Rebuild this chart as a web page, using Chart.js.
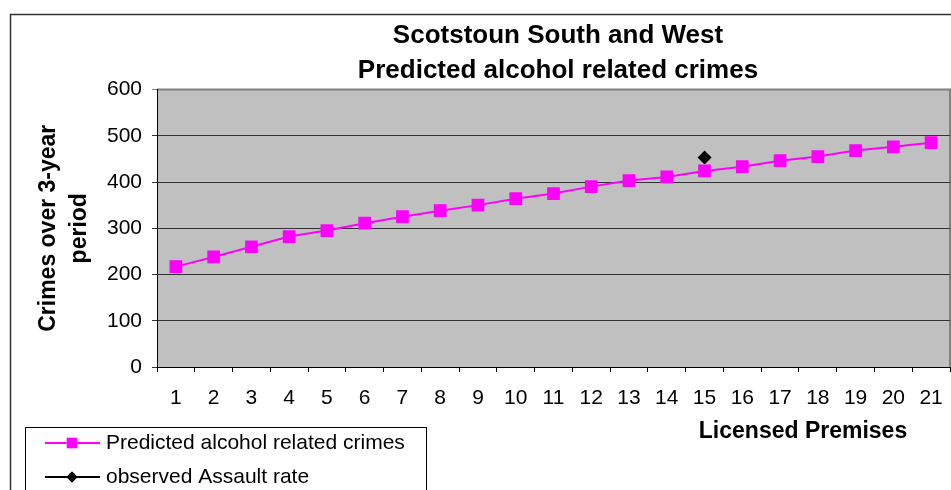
<!DOCTYPE html>
<html>
<head>
<meta charset="utf-8">
<script src="https://cdn.jsdelivr.net/npm/chart.js@4"></script>
<style>
  html, body { margin: 0; padding: 0; background: #fff; }
  #wrap { width: 951px; height: 490px; }
</style>
</head>
<body>
<div id="wrap"><canvas id="crimesChart" width="951" height="490"></canvas></div>
<script>
const premises = ['1','2','3','4','5','6','7','8','9','10','11','12','13','14','15','16','17','18','19','20','21'];
const predictedCrimes = [217, 238, 260, 282, 295, 311, 325, 338, 350, 364, 375, 390, 403, 411, 424, 433, 446, 455, 468, 476, 485];
const observedAssaults = [null, null, null, null, null, null, null, null, null, null, null, null, null, null, 453, null, null, null, null, null, null];
const yTicks = [0, 100, 200, 300, 400, 500, 600];
const chartTitle = ['Scotstoun South and West', 'Predicted alcohol related crimes'];

const FONT = "'Liberation Sans', Arial, sans-serif";

// gray plot area with its own border, outer chart frame, titles and legend box
const frame = {
    id: 'frame',
    beforeDraw(chart) {
        const {ctx, chartArea: a} = chart;
        ctx.save();
        ctx.strokeStyle = '#333';
        ctx.lineWidth = 1.5;
        ctx.strokeRect(10.5, 14.5, 1200, 800);
        ctx.fillStyle = '#c0c0c0';
        ctx.fillRect(a.left, a.top, a.right - a.left, a.bottom - a.top);
        ctx.strokeStyle = '#808080';
        ctx.lineWidth = 2;
        ctx.beginPath();
        ctx.moveTo(a.left, a.top);
        ctx.lineTo(a.right, a.top);
        ctx.lineTo(a.right, a.bottom);
        ctx.stroke();
        ctx.restore();
    },
    afterDraw(chart) {
        const ctx = chart.ctx;
        ctx.save();
        ctx.fillStyle = '#000';
        ctx.textAlign = 'center';
        ctx.textBaseline = 'middle';
        ctx.font = 'bold 26px ' + FONT;
        chartTitle.forEach((line, i) => ctx.fillText(line, 558, 36 + i * 35));
        // x axis title
        ctx.font = 'bold 23px ' + FONT;
        ctx.fillText('Licensed Premises', 803, 432);
        // legend box
        ctx.strokeStyle = '#000';
        ctx.lineWidth = 1;
        ctx.fillStyle = '#fff';
        ctx.fillRect(25.5, 427.5, 401, 100);
        ctx.strokeRect(25.5, 427.5, 401, 100);
        chart.data.datasets.forEach((ds, i) => {
            const y = 443 + i * 34;
            ctx.strokeStyle = ds.borderColor;
            ctx.lineWidth = 2;
            ctx.beginPath();
            ctx.moveTo(45, y);
            ctx.lineTo(100, y);
            ctx.stroke();
            Chart.helpers.drawPoint(ctx, {
                pointStyle: ds.pointStyle,
                radius: ds.legendRadius,
                borderWidth: 0
            }, 72, y);
            ctx.fillStyle = ds.pointBackgroundColor;
            ctx.fill();
            ctx.fillStyle = '#000';
            ctx.font = '21px ' + FONT;
            ctx.textAlign = 'left';
            ctx.fillText(ds.label, 106, y);
        });
        ctx.restore();
    }
};

new Chart(document.getElementById('crimesChart').getContext('2d'), {
    type: 'line',
    data: {
        labels: premises,
        datasets: [{
            label: 'Predicted alcohol related crimes',
            data: predictedCrimes,
            borderColor: '#ff00ff',
            backgroundColor: '#ff00ff',
            pointBackgroundColor: '#ff00ff',
            pointBorderColor: '#ff00ff',
            borderWidth: 2,
            pointStyle: 'rect',
            pointRadius: 9,
            pointBorderWidth: 0,
            legendRadius: 7.5,
            tension: 0
        }, {
            label: 'observed Assault rate',
            data: observedAssaults,
            borderColor: '#000',
            backgroundColor: '#000',
            pointBackgroundColor: '#000',
            pointBorderColor: '#000',
            borderWidth: 2,
            pointStyle: 'rectRot',
            pointRadius: 7,
            pointBorderWidth: 0,
            legendRadius: 5.5
        }]
    },
    options: {
        responsive: false,
        animation: false,
        layout: { autoPadding: false, padding: { left: 0, right: 1, top: 89.5, bottom: 0 } },
        plugins: {
            legend: { display: false },
            tooltip: { enabled: false },
            title: { display: false }
        },
        scales: {
            x: {
                offset: true,
                afterFit: scale => { scale.height = 123; },
                grid: { offset: true, drawOnChartArea: false, tickLength: 5, color: '#000' },
                border: { color: '#000', width: 1 },
                ticks: { color: '#000', font: { family: FONT, size: 21, lineHeight: 1.9 }, padding: 6, maxRotation: 0, autoSkip: false }
            },
            y: {
                min: 0,
                max: 600,
                afterFit: scale => { scale.width = 157; },
                afterBuildTicks: scale => { scale.ticks = yTicks.map(v => ({ value: v })); },
                grid: {
                    tickLength: 5,
                    color: ctx => ctx.tick && ctx.tick.value === 600 ? '#808080' : '#333'
                },
                border: { color: '#000', width: 1 },
                ticks: { color: '#000', font: { family: FONT, size: 21 }, padding: 10 },
                title: {
                    display: true,
                    text: ['Crimes over 3-year', 'period'],
                    color: '#000',
                    font: { family: FONT, size: 23, weight: 'bold', lineHeight: 1.35 },
                    padding: { top: 33, bottom: 0 }
                }
            }
        }
    },
    plugins: [frame]
});
</script>
</body>
</html>
